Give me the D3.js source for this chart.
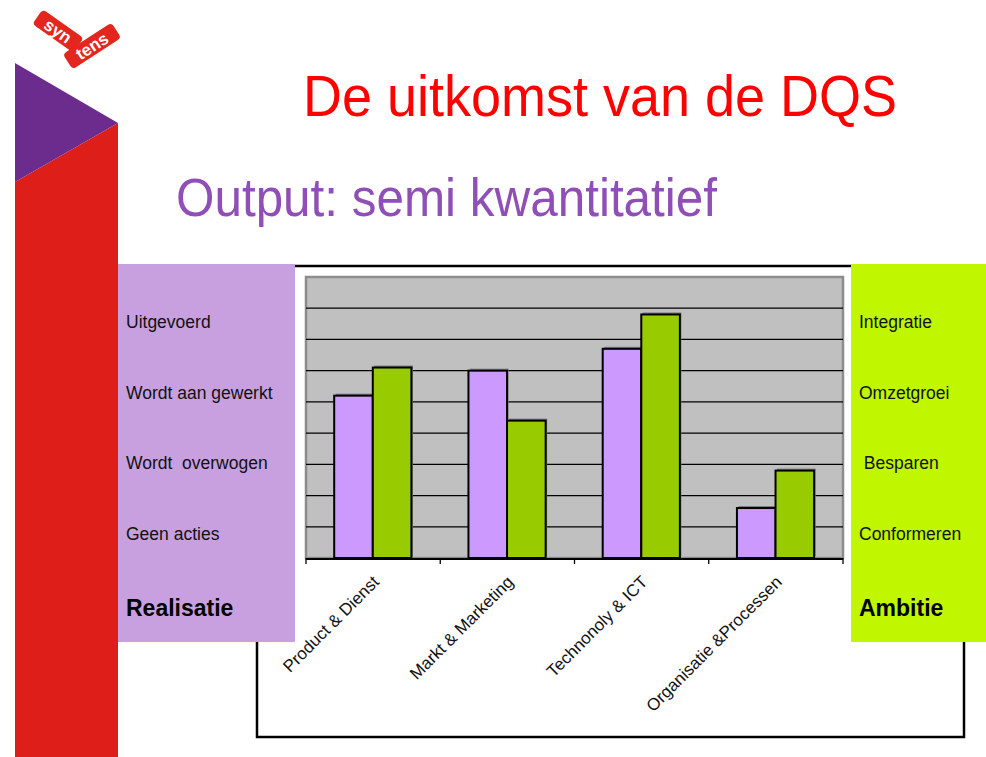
<!DOCTYPE html>
<html>
<head>
<meta charset="utf-8">
<script src="https://cdn.jsdelivr.net/npm/d3@7"></script>
<style>
body{margin:0;background:#fff;}
svg{display:block;font-family:"Liberation Sans",Arial,sans-serif;}
</style>
</head>
<body>
<div id="chart"></div>
<script>
var categories = ["Product & Dienst", "Markt & Marketing", "Technonoly & ICT", "Organisatie &Processen"];
var series = ["Realisatie", "Ambitie"];
var realisatie = [5.2, 6.0, 6.7, 1.6];
var ambitie = [6.1, 4.4, 7.8, 2.8];
var yTicks = [0, 1, 2, 3, 4, 5, 6, 7, 8, 9];
var realisatieLevels = ["Uitgevoerd", "Wordt aan gewerkt", "Wordt  overwogen", "Geen acties"];
var ambitieLevels = ["Integratie", "Omzetgroei", " Besparen", "Conformeren"];

var W = 986, H = 757;
var colors = {Realisatie: "#cc99ff", Ambitie: "#99cc00"};

var svg = d3.select("#chart").append("svg").attr("width", W).attr("height", H);
svg.append("rect").attr("width", W).attr("height", H).attr("fill", "#fff");

// left side decoration
svg.append("polygon").attr("points", "15,182 118,123 118,757 15,757").attr("fill", "#de1f19");
svg.append("polygon").attr("points", "15,63 118,123 15,182").attr("fill", "#6c2c8d");

// logo: two tilted tags
function tag(cx, cy, angle, w, label){
    var g = svg.append("g").attr("transform", "translate(" + cx + "," + cy + ") rotate(" + angle + ")");
    g.append("rect").attr("x", -w / 2).attr("y", -9).attr("width", w).attr("height", 18).attr("rx", 4)
        .attr("fill", "#e3261e");
    g.append("text").attr("y", 6).attr("text-anchor", "middle").attr("fill", "#fff")
        .style("font-size", "17px").style("font-weight", "bold").text(label);
}
tag(58, 31, 35, 50, "syn");
tag(92, 46, -33, 58, "tens");

// titles
svg.append("text").attr("x", 303).attr("y", 116).attr("fill", "#ff0000")
    .attr("textLength", 594).attr("lengthAdjust", "spacingAndGlyphs")
    .style("font-size", "57px").text("De uitkomst van de DQS");
svg.append("text").attr("x", 176).attr("y", 216).attr("fill", "#8f4fb7")
    .attr("textLength", 541).attr("lengthAdjust", "spacingAndGlyphs")
    .style("font-size", "53px").text("Output: semi kwantitatief");

// outer frame of the chart object
svg.append("rect").attr("x", 257).attr("y", 266).attr("width", 707).attr("height", 471)
    .attr("fill", "none").attr("stroke", "#000").attr("stroke-width", 2.5);

// plot
var plot = {left: 306, right: 843, top: 277, bottom: 558};
var x0 = d3.scaleBand().domain(categories).range([plot.left, plot.right]);
var bw = x0.bandwidth();
var x1 = d3.scaleBand().domain(series).range([bw * 0.21, bw * 0.785]);
var y = d3.scaleLinear().domain([0, 9]).range([plot.bottom, plot.top]);

svg.append("rect").attr("x", plot.left).attr("y", plot.top)
    .attr("width", plot.right - plot.left).attr("height", plot.bottom - plot.top)
    .attr("fill", "#c0c0c0").attr("stroke", "#8c8c8c").attr("stroke-width", 2.5);

svg.append("g").selectAll("line").data(yTicks.filter(function(d){ return d > 0 && d < 9; }))
    .enter().append("line")
    .attr("x1", plot.left).attr("x2", plot.right)
    .attr("y1", function(d){ return y(d); }).attr("y2", function(d){ return y(d); })
    .attr("stroke", "#000").attr("stroke-width", 1.3);

var rows = [];
categories.forEach(function(c, i){
    rows.push({c: c, s: "Realisatie", v: realisatie[i]});
    rows.push({c: c, s: "Ambitie", v: ambitie[i]});
});

var bars = svg.append("g").selectAll("g").data(rows).enter().append("g")
    .attr("transform", function(d){ return "translate(" + (x0(d.c) + x1(d.s)) + ",0)"; });
bars.append("rect")
    .attr("x", 1.5).attr("y", function(d){ return y(d.v) - 2; })
    .attr("width", x1.bandwidth()).attr("height", function(d){ return plot.bottom - y(d.v); })
    .attr("fill", "#7a7a7a");
bars.append("rect")
    .attr("x", 0).attr("y", function(d){ return y(d.v); })
    .attr("width", x1.bandwidth()).attr("height", function(d){ return plot.bottom - y(d.v); })
    .attr("fill", function(d){ return colors[d.s]; })
    .attr("stroke", "#000").attr("stroke-width", 2);

// category axis
var axis = svg.append("g");
axis.append("line").attr("x1", plot.left).attr("x2", plot.right)
    .attr("y1", plot.bottom + 1).attr("y2", plot.bottom + 1)
    .attr("stroke", "#000").attr("stroke-width", 2);
var bounds = categories.map(function(c){ return x0(c); }).concat([plot.right]);
axis.selectAll(".tick").data(bounds).enter().append("line").attr("class", "tick")
    .attr("x1", function(d){ return d; }).attr("x2", function(d){ return d; })
    .attr("y1", plot.bottom).attr("y2", plot.bottom + 6)
    .attr("stroke", "#000").attr("stroke-width", 1.3);
axis.selectAll(".lbl").data(categories).enter().append("text").attr("class", "lbl")
    .attr("transform", function(d){ return "translate(" + (x0(d) + bw / 2 + 7) + "," + (plot.bottom + 25) + ") rotate(-45)"; })
    .attr("text-anchor", "end").style("font-size", "17px").attr("fill", "#111")
    .text(function(d){ return d; });

// side panels
function panel(x, w, fill, levels, textX, title){
    svg.append("rect").attr("x", x).attr("y", 264).attr("width", w).attr("height", 378).attr("fill", fill);
    var ly = d3.scalePoint().domain(levels).range([328, 540]);
    svg.append("g").selectAll("text").data(levels).enter().append("text")
        .attr("x", textX).attr("y", function(d){ return ly(d); })
        .attr("fill", "#111").style("font-size", "17.5px").style("white-space", "pre")
        .text(function(d){ return d; });
    svg.append("text").attr("x", textX).attr("y", 616).attr("fill", "#000")
        .style("font-size", "23px").style("font-weight", "bold").text(title);
}
panel(118, 177, "#c8a0e0", realisatieLevels, 126, "Realisatie");
panel(851, 135, "#bff600", ambitieLevels, 859, "Ambitie");
</script>
</body>
</html>
